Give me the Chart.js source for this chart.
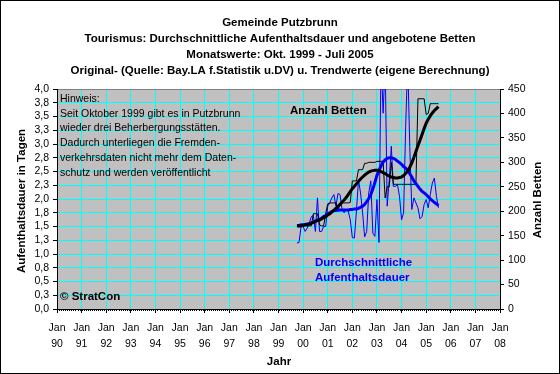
<!DOCTYPE html>
<html>
<head>
<meta charset="utf-8">
<script src="https://cdn.jsdelivr.net/npm/chart.js@4/dist/chart.umd.min.js"></script>
<style>
  html, body { margin: 0; padding: 0; background: #fff; }
  #c { display: block; }
</style>
</head>
<body>
<canvas id="c" width="560" height="374"></canvas>
<script>
// Monatswerte ab Okt. 1999 bis Juli 2005
const START_YEAR = 1999, START_MONTH = 10;

const titleLines = [
  'Gemeinde Putzbrunn',
  'Tourismus: Durchschnittliche Aufenthaltsdauer und angebotene Betten',
  'Monatswerte: Okt. 1999 - Juli 2005',
  'Original- (Quelle: Bay.LA f.Statistik u.DV) u. Trendwerte (eigene Berechnung)'
];
const noteLines = [
  'Hinweis:',
  'Seit Oktober 1999 gibt es in Putzbrunn',
  'wieder drei Beherbergungsstätten.',
  'Dadurch unterliegen die Fremden-',
  'verkehrsdaten nicht mehr dem Daten-',
  'schutz und werden veröffentlicht'
];
const yearLabels = ['90','91','92','93','94','95','96','97','98','99','00','01','02','03','04','05','06','07','08'];
const leftTickLabels = ['0,0','0,3','0,5','0,8','1,0','1,3','1,5','1,8','2,0','2,3','2,5','2,8','3,0','3,3','3,5','3,8','4,0'];

// Durchschnittliche Aufenthaltsdauer (Tage), Original
const aufenthaltOriginal = [
  1.20, 1.21, 1.50,
  1.50, 1.41, 1.47, 1.56, 1.68, 1.70, 1.41, 2.02, 1.41, 1.41, 1.50, 1.50,
  1.87, 1.93, 2.02, 2.08, 1.87, 2.10, 2.08, 1.81, 1.75, 1.81, 1.78, 1.62,
  1.30, 1.29, 1.78, 2.35, 2.11, 1.75, 1.31, 1.41, 2.11, 2.33, 1.38, 1.32,
  1.99, 1.21, 4.60, 3.56, 4.50, 1.87, 2.35, 2.96, 2.23, 2.23, 2.26, 2.05,
  1.62, 1.75, 3.32, 4.50, 2.96, 1.81, 2.02, 1.93, 1.84, 1.64, 1.68, 1.90,
  1.99, 1.84, 2.08, 2.29, 2.38, 2.05, 1.84
];
// Durchschnittliche Aufenthaltsdauer (Tage), Trend
const aufenthaltTrend = [
  1.52, 1.52, 1.53,
  1.53, 1.54, 1.54, 1.55, 1.57, 1.58, 1.60, 1.62, 1.63, 1.65, 1.68, 1.70,
  1.73, 1.75, 1.77, 1.79, 1.79, 1.80, 1.80, 1.80, 1.80, 1.80, 1.80, 1.81,
  1.81, 1.82, 1.82, 1.83, 1.85, 1.87, 1.90, 1.95, 2.01, 2.08, 2.18, 2.30,
  2.43, 2.52, 2.60, 2.67, 2.71, 2.74, 2.75, 2.75, 2.74, 2.72, 2.69, 2.66,
  2.63, 2.59, 2.56, 2.52, 2.46, 2.40, 2.33, 2.28, 2.23, 2.18, 2.14, 2.11,
  2.08, 2.04, 2.00, 1.97, 1.94, 1.91, 1.88
];
// Anzahl Betten, Original
const bettenOriginal = [
  170, 170, 170,
  170, 170, 170, 170, 170, 195, 195, 195, 172, 170, 170, 195,
  215, 217, 217, 217, 217, 200, 217, 217, 217, 217, 217, 218,
  262, 262, 262, 285, 285, 285, 298, 298, 300, 300, 300, 300,
  302, 302, 302, 302, 227, 250, 250, 300, 255, 255, 255, 255,
  255, 255, 255, 255, 255, 255, 255, 255, 430, 430, 430, 430,
  398, 400, 420, 420, 420, 420, 420
];
// Anzahl Betten, Trend
const bettenTrend = [
  170, 170, 170,
  171, 172, 173, 174, 175, 177, 179, 181, 182, 184, 187, 189,
  192, 195, 198, 202, 206, 210, 214, 219, 223, 228, 234, 240,
  246, 251, 256, 261, 266, 270, 274, 277, 280, 282, 283, 284,
  284, 283, 281, 279, 277, 274, 272, 270, 269, 268, 268, 269,
  270, 273, 277, 282, 290, 299, 310, 322, 334, 345, 357, 369,
  380, 388, 395, 401, 406, 410, 414
];

const monthX = i => START_YEAR + (START_MONTH - 1 + i) / 12;
const toPoints = arr => arr.map((v, i) => ({ x: monthX(i), y: v }));

const FONT = '"Liberation Sans", Arial, sans-serif';
const CYAN = '#00ffff';

const decor = {
  id: 'decor',
  beforeDraw(chart) {
    const { ctx, chartArea: a } = chart;
    ctx.save();
    ctx.fillStyle = '#fff';
    ctx.fillRect(0, 0, chart.width, chart.height);
    ctx.fillStyle = '#c0c0c0';
    ctx.fillRect(a.left, a.top, a.right - a.left, a.bottom - a.top);
    ctx.restore();
  },
  afterDraw(chart) {
    const { ctx, chartArea: a } = chart;
    const xs = chart.scales.x;
    ctx.save();
    // monthly minor ticks
    ctx.fillStyle = '#000';
    for (let m = 0; m <= 18 * 12; m++) {
      const px = Math.round(xs.getPixelForValue(1990 + m / 12));
      ctx.fillRect(px, a.bottom, 1, 2);
    }
    ctx.textBaseline = 'middle';
    ctx.textAlign = 'center';
    ctx.font = 'bold 11.5px ' + FONT;
    titleLines.forEach((t, i) => ctx.fillText(t, 280, 23 + i * 16));
    ctx.fillText('Jahr', 279, 362);
    ctx.save();
    ctx.translate(22, 201);
    ctx.rotate(-Math.PI / 2);
    ctx.fillText('Aufenthaltsdauer in Tagen', 0, 0);
    ctx.restore();
    ctx.save();
    ctx.translate(538, 200);
    ctx.rotate(-Math.PI / 2);
    ctx.fillText('Anzahl Betten', 0, 0);
    ctx.restore();
    ctx.textAlign = 'left';
    ctx.fillText('Anzahl Betten', 290, 111);
    ctx.fillText('\u00a9 StratCon', 60, 297);
    ctx.fillStyle = '#0000ff';
    ctx.fillText('Durchschnittliche', 315, 263);
    ctx.fillText('Aufenthaltsdauer', 315, 278);
    ctx.fillStyle = '#000';
    ctx.font = '10.5px ' + FONT;
    noteLines.forEach((t, i) => ctx.fillText(t, 60, 99 + i * 14.8));
    // outer frame
    ctx.strokeStyle = '#000';
    ctx.lineWidth = 1;
    ctx.strokeRect(0.5, 0.5, chart.width - 1, chart.height - 1);
    ctx.restore();
  }
};

new Chart(document.getElementById('c'), {
  type: 'line',
  data: {
    datasets: [
      { data: toPoints(aufenthaltOriginal), yAxisID: 'y', borderColor: '#0000ff', borderWidth: 1, order: 4 },
      { data: toPoints(bettenOriginal), yAxisID: 'yR', borderColor: '#000000', borderWidth: 1, order: 3 },
      { data: toPoints(aufenthaltTrend), yAxisID: 'y', borderColor: '#0000ff', borderWidth: 3, order: 2 },
      { data: toPoints(bettenTrend), yAxisID: 'yR', borderColor: '#000000', borderWidth: 3, order: 1 }
    ]
  },
  options: {
    responsive: false,
    animation: false,
    events: [],
    layout: { padding: { top: 89, left: 0, right: 0, bottom: 0 } },
    elements: { point: { radius: 0 }, line: { tension: 0 } },
    plugins: { legend: { display: false }, tooltip: { enabled: false }, title: { display: false } },
    scales: {
      x: {
        type: 'linear', min: 1990, max: 2008,
        afterFit: s => { s.height = 65; },
        ticks: {
          stepSize: 1, autoSkip: false, maxRotation: 0, color: '#000', padding: 7,
          font: { family: FONT, size: 10.5, lineHeight: 1.55 },
          callback: (v, i) => ['Jan', yearLabels[i]]
        },
        grid: {
          color: c => (c.tick && (c.tick.value === 1990 || c.tick.value === 2008)) ? '#000' : CYAN,
          tickColor: '#000', tickLength: 4, lineWidth: 1
        },
        border: { color: '#000' }
      },
      y: {
        position: 'left', min: 0, max: 4,
        afterFit: s => { s.width = 57; },
        ticks: {
          stepSize: 0.25, autoSkip: false, color: '#000', padding: 4,
          font: { family: FONT, size: 10.5 },
          callback: (v, i) => leftTickLabels[i]
        },
        grid: {
          color: c => c.tick && c.tick.value === 0 ? '#000' : (c.tick && c.tick.value === 4 ? '#808080' : CYAN),
          tickColor: '#000', tickLength: 4, lineWidth: 1
        },
        border: { color: '#000' }
      },
      yR: {
        position: 'right', min: 0, max: 450,
        afterFit: s => { s.width = 60; },
        ticks: { stepSize: 50, autoSkip: false, color: '#000', padding: 4, font: { family: FONT, size: 10.5 } },
        grid: { drawOnChartArea: false, tickColor: '#000', tickLength: 4 },
        border: { color: '#000' }
      }
    }
  },
  plugins: [decor]
});
</script>
</body>
</html>
